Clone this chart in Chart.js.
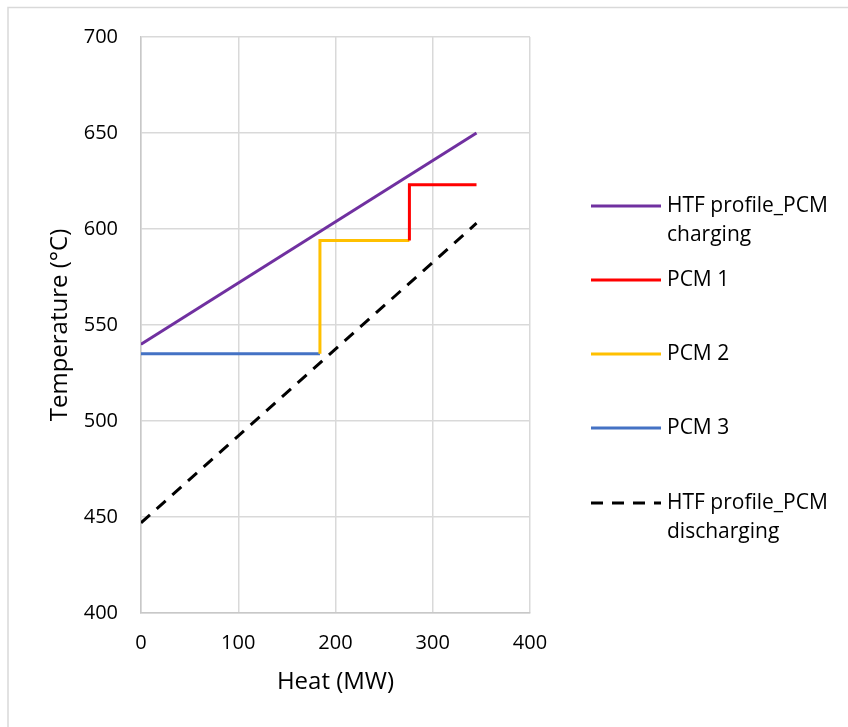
<!DOCTYPE html>
<html>
<head>
<meta charset="utf-8">
<script src="https://cdn.jsdelivr.net/npm/chart.js@4/dist/chart.umd.min.js"></script>
<style>
  html, body { margin: 0; padding: 0; background: #fff; }
  #wrap { width: 848px; height: 727px; position: relative; }
</style>
</head>
<body>
<div id="wrap"><canvas id="c" width="848" height="727"></canvas></div>
<script>
// ---- Data (Heat MW, Temperature °C) ----
const seriesNames = [["HTF profile_PCM", "charging"], ["PCM 1"], ["PCM 2"], ["PCM 3"], ["HTF profile_PCM", "discharging"]];
const htfChargingX = [0, 345];
const htfChargingY = [540, 650];
const pcm1X = [276, 276, 345];
const pcm1Y = [594, 623, 623];
const pcm2X = [184, 184, 276];
const pcm2Y = [535, 594, 594];
const pcm3X = [0, 184];
const pcm3Y = [535, 535];
const htfDischargingX = [0, 345];
const htfDischargingY = [447, 603];
const xTicks = [0, 100, 200, 300, 400];
const yTicks = [400, 450, 500, 550, 600, 650, 700];

const toPts = (xs, ys) => xs.map((x, i) => ({ x: x, y: ys[i] }));

const colors = ['#7030A0', '#FF0000', '#FFC000', '#4472C4', '#000000'];
const dashes = [[], [], [], [], [12, 9]];
const FONT = "'Open Sans', sans-serif";

const datasets = [
  toPts(htfChargingX, htfChargingY),
  toPts(pcm1X, pcm1Y),
  toPts(pcm2X, pcm2Y),
  toPts(pcm3X, pcm3Y),
  toPts(htfDischargingX, htfDischargingY)
].map((d, i) => ({
  label: seriesNames[i].join(' '),
  data: d,
  borderColor: colors[i],
  backgroundColor: colors[i],
  borderWidth: 3,
  borderDash: dashes[i],
  pointRadius: 0,
  fill: false,
  tension: 0,
  showLine: true
}));

const frame = {
  id: 'frame',
  beforeDraw(chart) {
    const ctx = chart.ctx;
    ctx.save();
    ctx.fillStyle = '#fff';
    ctx.fillRect(0, 0, chart.width, chart.height);
    ctx.strokeStyle = '#d9d9d9';
    ctx.lineWidth = 1.5;
    ctx.strokeRect(8, 7.5, 1000, 1000);
    ctx.restore();
  }
};

const customLegend = {
  id: 'customLegend',
  afterDraw(chart) {
    const ctx = chart.ctx;
    const ys = [206, 280, 354, 428, 503];
    ctx.save();
    ctx.font = "21px " + FONT;
    ctx.textBaseline = 'middle';
    ctx.textAlign = 'left';
    seriesNames.forEach((lines, i) => {
      const y = ys[i];
      ctx.strokeStyle = colors[i];
      ctx.lineWidth = 3;
      ctx.setLineDash(dashes[i]);
      ctx.beginPath();
      ctx.moveTo(591, y);
      ctx.lineTo(661, y);
      ctx.stroke();
      ctx.setLineDash([]);
      ctx.fillStyle = '#000';
      lines.forEach((t, j) => ctx.fillText(t, 667, y + j * 29));
    });
    ctx.restore();
  }
};

new Chart(document.getElementById('c'), {
  type: 'scatter',
  data: { datasets },
  options: {
    responsive: false,
    animation: false,
    layout: { padding: { left: 0, top: 37, right: 318, bottom: 0 } },
    plugins: { legend: { display: false }, tooltip: { enabled: false } },
    scales: {
      x: {
        type: 'linear', min: 0, max: 400,
        afterBuildTicks: s => { s.ticks = xTicks.map(v => ({ value: v })); },
        afterFit: s => { s.height = 114; },
        grid: { color: '#d9d9d9', lineWidth: 1.5, drawTicks: false },
        border: { color: '#c8c8c8', width: 1.5 },
        ticks: { padding: 18, color: '#000', font: { family: FONT, size: 20 } },
        title: { display: true, text: 'Heat (MW)', color: '#000', font: { family: FONT, size: 24 }, padding: { top: 0, bottom: 30 } }
      },
      y: {
        type: 'linear', min: 400, max: 700,
        afterBuildTicks: s => { s.ticks = yTicks.map(v => ({ value: v })); },
        afterFit: s => { s.width = 141; },
        grid: { color: '#d9d9d9', lineWidth: 1.5, drawTicks: false },
        border: { color: '#c8c8c8', width: 1.5 },
        ticks: { padding: 23, color: '#000', font: { family: FONT, size: 20 } },
        title: { display: true, text: 'Temperature (°C)', color: '#000', font: { family: FONT, size: 24 }, padding: { top: 46, bottom: 0 } }
      }
    }
  },
  plugins: [frame, customLegend]
});
</script>
</body>
</html>
